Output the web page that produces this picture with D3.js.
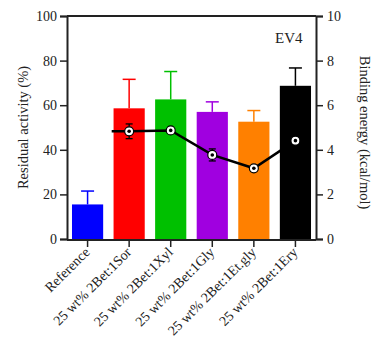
<!DOCTYPE html>
<html>
<head>
<meta charset="utf-8">
<script src="https://cdn.jsdelivr.net/npm/d3@7"></script>
<style>
  body { margin: 0; background: #fff; }
  svg text { font-family: "Liberation Serif", "DejaVu Serif", serif; fill: #222; }
</style>
</head>
<body>
<svg id="chart" width="380" height="344"></svg>
<script>
const categories = ['Reference', '25 wt% 2Bet:1Sor', '25 wt% 2Bet:1Xyl', '25 wt% 2Bet:1Gly', '25 wt% 2Bet:1Et.gly', '25 wt% 2Bet:1Ery'];
const activity = [15.5, 58.6, 62.6, 57, 52.6, 68.7];
const activityErr = [6, 13, 12.5, 4.5, 5, 8];
const barColors = ['#0000ff', '#ff0000', '#00c000', '#a000e0', '#ff8000', '#000000'];
const energyCats = categories.slice(1);
const energy = [4.83, 4.87, 3.77, 3.17, 4.41];
const energyErr = [0.33, 0.05, 0.27, 0.05, 0.05];
const leftTicks = [0, 20, 40, 60, 80, 100];
const rightTicks = [0, 2, 4, 6, 8, 10];

const svg = d3.select('#chart');
const mLeft = 67, mRight = 316, mTop = 16, mBottom = 239;

const x = d3.scaleBand().domain(categories).range([mLeft, mRight]).paddingInner(0.25).paddingOuter(0.12);
const y = d3.scaleLinear().domain([0, 100]).range([mBottom, mTop]);
const y2 = d3.scaleLinear().domain([0, 10]).range([mBottom, mTop]);
const cx = d => x(d) + x.bandwidth() / 2;

// bars
svg.append('g').selectAll('rect')
  .data(categories)
  .enter()
  .append('rect')
  .attr('x', d => x(d))
  .attr('y', (d, i) => y(activity[i]))
  .attr('width', x.bandwidth())
  .attr('height', (d, i) => y(0) - y(activity[i]))
  .attr('fill', (d, i) => barColors[i]);

// bar error bars (upper only)
categories.forEach(function (c, i) {
  const g = svg.append('g').attr('stroke', barColors[i]).attr('stroke-width', 1.5);
  g.append('line').attr('x1', cx(c)).attr('x2', cx(c))
    .attr('y1', y(activity[i])).attr('y2', y(activity[i] + activityErr[i]));
  g.append('line').attr('x1', cx(c) - 6.5).attr('x2', cx(c) + 6.5)
    .attr('y1', y(activity[i] + activityErr[i])).attr('y2', y(activity[i] + activityErr[i]));
});

// axes
const axisColor = '#222';
const yAxis = svg.append('g')
  .attr('transform', 'translate(' + mLeft + ',0)')
  .call(d3.axisLeft(y).tickValues(leftTicks).tickSize(7).tickPadding(3));
const yAxis2 = svg.append('g')
  .attr('transform', 'translate(' + mRight + ',0)')
  .call(d3.axisRight(y2).tickValues(rightTicks).tickSize(7).tickPadding(4));
const xAxis = svg.append('g')
  .attr('transform', 'translate(0,' + (mBottom + 1) + ')')
  .call(d3.axisBottom(x).tickSize(7).tickSizeOuter(0).tickFormat(''));

[yAxis, yAxis2, xAxis].forEach(function (a) {
  a.select('.domain').attr('stroke', axisColor).attr('stroke-width', 2);
  a.selectAll('.tick line').attr('stroke', axisColor).attr('stroke-width', 1.5);
  a.selectAll('.tick text').attr('font-size', 14).attr('font-family', '"Liberation Serif", serif').attr('fill', '#222');
});
xAxis.select('.domain').attr('d', 'M' + mLeft + ',0H' + mRight);

// top frame line
svg.append('line')
  .attr('x1', mLeft).attr('x2', mRight)
  .attr('y1', mTop).attr('y2', mTop)
  .attr('stroke', axisColor).attr('stroke-width', 2);

// x labels
svg.append('g').selectAll('text')
  .data(categories)
  .enter()
  .append('text')
  .attr('transform', d => 'translate(' + (cx(d) + 3) + ',' + (mBottom + 14) + ') rotate(-45)')
  .attr('text-anchor', 'end')
  .attr('font-size', 14)
  .text(d => d);

// line series
const pts = energyCats.map((c, i) => [cx(c), y2(energy[i])]);
const lead = [[cx(energyCats[0]) - x.step() * 0.42, y2(energy[0])]];
svg.append('path')
  .attr('d', d3.line()(lead.concat(pts)))
  .attr('fill', 'none')
  .attr('stroke', '#000')
  .attr('stroke-width', 2.5);

energyCats.forEach(function (c, i) {
  const g = svg.append('g').attr('stroke', '#000').attr('stroke-width', 1.3);
  const lo = y2(energy[i] - energyErr[i]), hi = y2(energy[i] + energyErr[i]);
  g.append('line').attr('x1', cx(c)).attr('x2', cx(c)).attr('y1', lo).attr('y2', hi);
  g.append('line').attr('x1', cx(c) - 3.5).attr('x2', cx(c) + 3.5).attr('y1', lo).attr('y2', lo);
  g.append('line').attr('x1', cx(c) - 3.5).attr('x2', cx(c) + 3.5).attr('y1', hi).attr('y2', hi);
});

svg.append('g').selectAll('circle')
  .data(energyCats)
  .enter()
  .append('circle')
  .attr('cx', d => cx(d))
  .attr('cy', (d, i) => y2(energy[i]))
  .attr('r', 4.5)
  .attr('fill', '#fff')
  .attr('stroke', '#000')
  .attr('stroke-width', 1.2);
svg.append('g').selectAll('circle.dot')
  .data(energyCats)
  .enter()
  .append('circle')
  .attr('class', 'dot')
  .attr('cx', d => cx(d))
  .attr('cy', (d, i) => y2(energy[i]))
  .attr('r', 1.8)
  .attr('fill', '#000');

// titles
svg.append('text')
  .attr('transform', 'translate(28,' + ((mTop + mBottom) / 2) + ') rotate(-90)')
  .attr('text-anchor', 'middle')
  .attr('font-size', 14.5)
  .text('Residual activity (%)');
svg.append('text')
  .attr('transform', 'translate(360,' + ((mTop + mBottom) / 2 + 5) + ') rotate(90)')
  .attr('text-anchor', 'middle')
  .attr('font-size', 14.5)
  .text('Binding energy (kcal/mol)');
svg.append('text')
  .attr('x', 275).attr('y', 43)
  .attr('font-size', 15)
  .text('EV4');
</script>
</body>
</html>
